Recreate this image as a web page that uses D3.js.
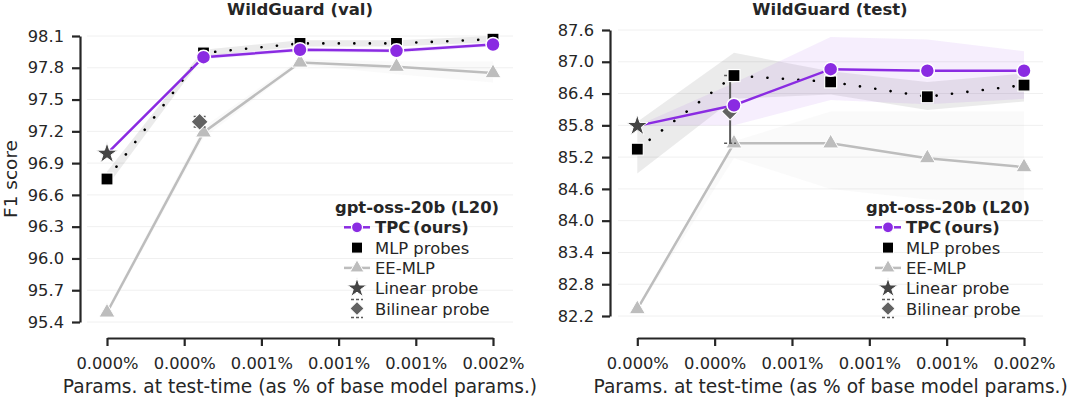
<!DOCTYPE html>
<html>
<head>
<meta charset="utf-8">
<script src="https://cdn.jsdelivr.net/npm/d3@7"></script>
<style>
body{margin:0;background:#fff}
text{font-family:"DejaVu Sans",sans-serif;fill:#262626}
</style>
</head>
<body>
<div id="chart"></div>
<script>
// x positions (fraction of base model params, in %)
var xVals = [0, 0.000375, 0.00075, 0.001125, 0.0015];
var xTicks = [0, 0.0003, 0.0006, 0.0009, 0.0012, 0.0015];
var xTickLabels = ['0.000%', '0.000%', '0.001%', '0.001%', '0.001%', '0.002%'];
var bilinearX = 0.00036;

// WildGuard (val)
var valTicks = [95.4, 95.7, 96.0, 96.3, 96.6, 96.9, 97.2, 97.5, 97.8, 98.1];
var valTPC = [96.99, 97.90, 97.97, 97.96, 98.02];
var valTPCLo = [96.99, 97.88, 97.95, 97.94, 98.00];
var valTPCHi = [96.99, 97.92, 97.99, 97.98, 98.04];
var valMLP = [96.75, 97.94, 98.03, 98.03, 98.07];
var valMLPLo = [96.68, 97.91, 98.00, 98.00, 98.04];
var valMLPHi = [96.82, 97.97, 98.06, 98.06, 98.10];
var valEE = [95.49, 97.19, 97.85, 97.81, 97.75];
var valEELo = [95.46, 97.14, 97.83, 97.74, 97.66];
var valEEHi = [95.52, 97.24, 97.88, 97.86, 97.86];
var valLinear = 96.99;
var valBilinear = 97.29;
var valBilinearErr = [97.24, 97.34];

// WildGuard (test)
var testTicks = [82.2, 82.8, 83.4, 84.0, 84.6, 85.2, 85.8, 86.4, 87.0, 87.6];
var testTPC = [85.79, 86.18, 86.86, 86.83, 86.83];
var testTPCLo = [85.79, 85.80, 86.28, 86.20, 86.30];
var testTPCHi = [85.79, 86.60, 87.47, 87.42, 87.20];
var testMLP = [85.35, 86.74, 86.62, 86.34, 86.56];
var testMLPLo = [84.89, 86.30, 86.38, 86.09, 86.25];
var testMLPHi = [85.87, 87.17, 86.82, 86.62, 86.78];
var testEE = [82.33, 85.46, 85.46, 85.18, 85.01];
var testEELo = [82.30, 85.18, 84.60, 84.40, 84.33];
var testEEHi = [82.36, 85.50, 86.06, 86.06, 86.06];
var testLinear = 85.79;
var testBilinear = 86.06;
var testBilinearErr = [85.46, 86.74];

var purple = '#8a2be2', eeGrey = '#bdbdbd', ink = '#262626';

var svg = d3.select('#chart').append('svg')
    .attr('width', 1080)
    .attr('height', 397);

function zip(lo, hi){
    return xVals.map(function(x, i){ return {x: x, lo: lo[i], hi: hi[i]}; });
}
function pts(v){
    return xVals.map(function(x, i){ return {x: x, y: v[i]}; });
}

function drawPanel(p){
    var g = svg.append('g');
    var x = d3.scaleLinear().domain([0, 0.0015]).range(p.xRange);
    var y = d3.scaleLinear().domain(p.yDomain).range(p.yRange);

    // grid
    g.selectAll('line.grid').data(p.yTicks).enter().append('line')
        .attr('x1', p.gridX[0]).attr('x2', p.gridX[1])
        .attr('y1', function(d){ return y(d); })
        .attr('y2', function(d){ return y(d); })
        .attr('stroke', '#f0f0f0').attr('stroke-width', 1);

    var area = d3.area()
        .x(function(d){ return x(d.x); })
        .y0(function(d){ return y(d.lo); })
        .y1(function(d){ return y(d.hi); });
    var line = d3.line()
        .x(function(d){ return x(d.x); })
        .y(function(d){ return y(d.y); });

    // bands
    g.append('path').attr('d', area(zip(p.eeLo, p.eeHi)))
        .attr('fill', eeGrey).attr('fill-opacity', 0.08);
    g.append('path').attr('d', area(zip(p.mlpLo, p.mlpHi)))
        .attr('fill', '#000').attr('fill-opacity', 0.08);
    g.append('path').attr('d', area(zip(p.tpcLo, p.tpcHi)))
        .attr('fill', purple).attr('fill-opacity', 0.08);

    // EE-MLP
    g.append('path').attr('d', line(pts(p.ee)))
        .attr('fill', 'none').attr('stroke', eeGrey).attr('stroke-width', 2.5);
    g.selectAll('path.tri').data(pts(p.ee)).enter().append('path')
        .attr('d', d3.symbol(d3.symbolTriangle, 110)())
        .attr('transform', function(d){ return 'translate(' + x(d.x) + ',' + y(d.y) + ')'; })
        .attr('fill', eeGrey).attr('stroke', '#fff').attr('stroke-width', 1);

    // bilinear probe with error bar
    var bx = x(bilinearX);
    g.append('line')
        .attr('x1', bx).attr('x2', bx)
        .attr('y1', y(p.bilErr[0])).attr('y2', y(p.bilErr[1]))
        .attr('stroke', '#5a5a5a').attr('stroke-width', 2);
    p.bilErr.forEach(function(v){
        g.append('line')
            .attr('x1', bx - 6).attr('x2', bx + 6)
            .attr('y1', y(v)).attr('y2', y(v))
            .attr('stroke', '#5a5a5a').attr('stroke-width', 1.5)
            .attr('stroke-dasharray', '3,2');
    });
    g.append('rect')
        .attr('x', -6).attr('y', -6).attr('width', 12).attr('height', 12)
        .attr('transform', 'translate(' + bx + ',' + y(p.bilinear) + ') rotate(45)')
        .attr('fill', '#626262').attr('stroke', '#fff').attr('stroke-width', 1);

    // MLP probes
    g.append('path').attr('d', line(pts(p.mlp)))
        .attr('fill', 'none').attr('stroke', '#000').attr('stroke-width', 2.6)
        .attr('stroke-linecap', 'round').attr('stroke-dasharray', '0.1,15.4');
    g.selectAll('rect.sq').data(pts(p.mlp)).enter().append('rect')
        .attr('x', function(d){ return x(d.x) - 6; })
        .attr('y', function(d){ return y(d.y) - 6; })
        .attr('width', 12).attr('height', 12)
        .attr('fill', '#000').attr('stroke', '#fff').attr('stroke-width', 1.2);

    // TPC
    g.append('path').attr('d', line(pts(p.tpc)))
        .attr('fill', 'none').attr('stroke', purple).attr('stroke-width', 2.5);
    g.selectAll('circle.tpc').data(pts(p.tpc).slice(1)).enter().append('circle')
        .attr('cx', function(d){ return x(d.x); })
        .attr('cy', function(d){ return y(d.y); })
        .attr('r', 7)
        .attr('fill', purple).attr('stroke', '#fff').attr('stroke-width', 1.5);

    // linear probe
    g.append('path')
        .attr('d', d3.symbol(d3.symbolStar, 140)())
        .attr('transform', 'translate(' + x(0) + ',' + y(p.linear) + ')')
        .attr('fill', '#454545').attr('stroke', '#fff').attr('stroke-width', 1);

    // axes
    var yAxis = g.append('g')
        .attr('transform', 'translate(' + p.yAxisX + ',0)')
        .call(d3.axisLeft(y).tickValues(p.yTicks).tickFormat(d3.format('.1f'))
            .tickSize(8).tickPadding(8).tickSizeOuter(0));
    var xAxis = g.append('g')
        .attr('transform', 'translate(0,' + p.xAxisY + ')')
        .call(d3.axisBottom(x).tickValues(xTicks)
            .tickFormat(function(d, i){ return xTickLabels[i]; })
            .tickSize(8).tickPadding(11).tickSizeOuter(0));
    [yAxis, xAxis].forEach(function(a){
        a.select('.domain').attr('stroke', ink).attr('stroke-width', 2.2);
        a.selectAll('.tick line').attr('stroke', ink).attr('stroke-width', 2.2);
        a.selectAll('.tick text').style('font-size', '16.3px').attr('fill', ink)
            .style('font-family', '"DejaVu Sans", sans-serif');
    });

    g.append('text')
        .attr('x', p.titleX).attr('y', 15)
        .attr('text-anchor', 'middle')
        .style('font-size', '16.5px').style('font-weight', 'bold')
        .text(p.title);

    g.append('text')
        .attr('x', (p.xRange[0] + p.xRange[1]) / 2).attr('y', 393)
        .attr('text-anchor', 'middle')
        .style('font-size', '18.6px')
        .text('Params. at test-time (as % of base model params.)');

    drawLegend(g, p.legendX, 207);
}

function drawLegend(g, hx, top){
    var step = 20.3, fs = '16.4px';
    g.append('text')
        .attr('x', hx + 60).attr('y', top + 6)
        .attr('text-anchor', 'middle')
        .style('font-size', fs).style('font-weight', 'bold')
        .text('gpt-oss-20b (L20)');
    var rows = ['TPC (ours)', 'MLP probes', 'EE-MLP', 'Linear probe', 'Bilinear probe'];
    rows.forEach(function(label, i){
        var cy = top + step * (i + 1);
        var t = g.append('text')
            .attr('x', hx + 18).attr('y', cy + 6)
            .style('font-size', fs)
            .text(label);
        if(i === 0){ t.style('font-weight', 'bold').style('word-spacing', '-3px'); }
        if(i === 0){
            g.append('line').attr('x1', hx - 13).attr('x2', hx + 13)
                .attr('y1', cy).attr('y2', cy)
                .attr('stroke', purple).attr('stroke-width', 2.5);
            g.append('circle').attr('cx', hx).attr('cy', cy).attr('r', 5.5)
                .attr('fill', purple).attr('stroke', '#fff').attr('stroke-width', 1.2);
        }
        else if(i === 1){
            g.append('rect').attr('x', hx - 5.5).attr('y', cy - 5.5)
                .attr('width', 11).attr('height', 11)
                .attr('fill', '#000').attr('stroke', '#fff').attr('stroke-width', 1);
        }
        else if(i === 2){
            g.append('line').attr('x1', hx - 13).attr('x2', hx + 13)
                .attr('y1', cy).attr('y2', cy)
                .attr('stroke', eeGrey).attr('stroke-width', 2.5);
            g.append('path').attr('d', d3.symbol(d3.symbolTriangle, 85)())
                .attr('transform', 'translate(' + hx + ',' + cy + ')')
                .attr('fill', eeGrey).attr('stroke', '#fff').attr('stroke-width', 1);
        }
        else if(i === 3){
            g.append('path').attr('d', d3.symbol(d3.symbolStar, 120)())
                .attr('transform', 'translate(' + hx + ',' + cy + ')')
                .attr('fill', '#454545').attr('stroke', '#fff').attr('stroke-width', 1);
        }
        else {
            [-9, 9].forEach(function(o){
                g.append('line').attr('x1', hx - 6).attr('x2', hx + 6)
                    .attr('y1', cy + o).attr('y2', cy + o)
                    .attr('stroke', '#5a5a5a').attr('stroke-width', 1.5)
                    .attr('stroke-dasharray', '3,2');
            });
            g.append('rect').attr('x', -5).attr('y', -5).attr('width', 10).attr('height', 10)
                .attr('transform', 'translate(' + hx + ',' + cy + ') rotate(45)')
                .attr('fill', '#626262').attr('stroke', '#fff').attr('stroke-width', 1);
        }
    });
}

drawPanel({
    title: 'WildGuard (val)', titleX: 300,
    xRange: [107, 493], yDomain: [95.4, 98.1], yRange: [322, 36],
    yTicks: valTicks, gridX: [87, 513], yAxisX: 80, xAxisY: 338,
    tpc: valTPC, tpcLo: valTPCLo, tpcHi: valTPCHi,
    mlp: valMLP, mlpLo: valMLPLo, mlpHi: valMLPHi,
    ee: valEE, eeLo: valEELo, eeHi: valEEHi,
    linear: valLinear, bilinear: valBilinear, bilErr: valBilinearErr,
    legendX: 357
});

drawPanel({
    title: 'WildGuard (test)', titleX: 830,
    xRange: [637.3, 1024], yDomain: [82.2, 87.6], yRange: [316, 30],
    yTicks: testTicks, gridX: [618, 1043], yAxisX: 610, xAxisY: 338,
    tpc: testTPC, tpcLo: testTPCLo, tpcHi: testTPCHi,
    mlp: testMLP, mlpLo: testMLPLo, mlpHi: testMLPHi,
    ee: testEE, eeLo: testEELo, eeHi: testEEHi,
    linear: testLinear, bilinear: testBilinear, bilErr: testBilinearErr,
    legendX: 888
});

svg.append('text')
    .attr('transform', 'translate(17,179) rotate(-90)')
    .attr('text-anchor', 'middle')
    .style('font-size', '18.5px')
    .text('F1 score');
</script>
</body>
</html>
